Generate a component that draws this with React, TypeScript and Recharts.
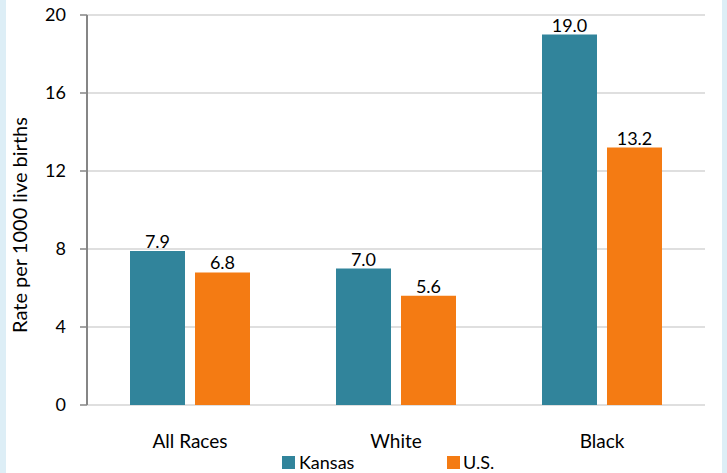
import React from 'react';
import { BarChart, Bar, XAxis, YAxis, CartesianGrid, LabelList } from 'recharts';

const categories = ['All Races', 'White', 'Black'];
const kansas = [7.9, 7.0, 19.0];
const us = [6.8, 5.6, 13.2];
const yTicks = [0, 4, 8, 12, 16, 20];
const boundaryTicks = [0, 1, 2, 3];
const seriesNames = ['Kansas', 'U.S.'];

const data = categories.map((c, i) => ({ name: c, kansas: kansas[i], us: us[i] }));

const FONT = 'Lato, "Open Sans", sans-serif';
const TEAL = '#31849b';
const ORANGE = '#f47b13';
const AXIS = '#868686';
const FRAME = '#ddeef6';

export default function App() {
  return (
    <div style={{ position: 'fixed', left: 0, top: 0, width: 727, height: 473, background: '#ffffff', overflow: 'hidden' }}>
      <div style={{ position: 'absolute', left: 0, top: 0 }}>
        <BarChart
          width={727}
          height={473}
          data={data}
          margin={{ top: 15, right: 22, left: 0, bottom: 38 }}
          barCategoryGap="21%"
          barGap={10}
        >
          <CartesianGrid vertical={false} stroke="#d4d4d4" strokeWidth={1.5} />
          <XAxis
            dataKey="name"
            xAxisId="cat"
            axisLine={false}
            tickLine={false}
            height={30}
            tick={{ fill: '#000', fontSize: 19, fontFamily: FONT }}
            dy={22}
          />
          <XAxis
            xAxisId="b"
            type="number"
            domain={[0, 3]}
            ticks={boundaryTicks}
            tick={false}
            height={0}
            axisLine={{ stroke: AXIS, strokeWidth: 2 }}
            tickLine={{ stroke: AXIS, strokeWidth: 2 }}
            tickSize={8}
          />
          <YAxis
            width={87}
            domain={[0, 20]}
            ticks={yTicks}
            interval={0}
            axisLine={{ stroke: AXIS, strokeWidth: 2 }}
            tickLine={{ stroke: AXIS, strokeWidth: 1.5 }}
            tickSize={7}
            tickMargin={14}
            tick={{ fill: '#000', fontSize: 18, fontFamily: FONT }}
          />
          <Bar dataKey="kansas" xAxisId="cat" fill={TEAL} barSize={55} isAnimationActive={false}>
            <LabelList dataKey="kansas" position="top" offset={3} formatter={(v: number) => v.toFixed(1)} style={{ fill: '#000', fontSize: 18, fontFamily: FONT }} />
          </Bar>
          <Bar dataKey="us" xAxisId="cat" fill={ORANGE} barSize={55} isAnimationActive={false}>
            <LabelList dataKey="us" position="top" offset={3} formatter={(v: number) => v.toFixed(1)} style={{ fill: '#000', fontSize: 18, fontFamily: FONT }} />
          </Bar>
        </BarChart>
      </div>
      <svg width={727} height={473} style={{ position: 'absolute', left: 0, top: 0, pointerEvents: 'none' }}>
        <rect x={0} y={0} width={6} height={473} fill={FRAME} />
        <rect x={722} y={0} width={5} height={473} fill={FRAME} />
        <text x={0} y={0} transform="translate(27,225) rotate(-90)" textAnchor="middle" fontSize={20} fontFamily={FONT} fill="#000">Rate per 1000 live births</text>
        <rect x={282} y={456} width={13} height={13} fill={TEAL} />
        <text x={299} y={469} fontSize={18} fontFamily={FONT} fill="#000">{seriesNames[0]}</text>
        <rect x={447} y={456} width={13} height={13} fill={ORANGE} />
        <text x={463} y={469} fontSize={18} fontFamily={FONT} fill="#000">{seriesNames[1]}</text>
      </svg>
    </div>
  );
}
